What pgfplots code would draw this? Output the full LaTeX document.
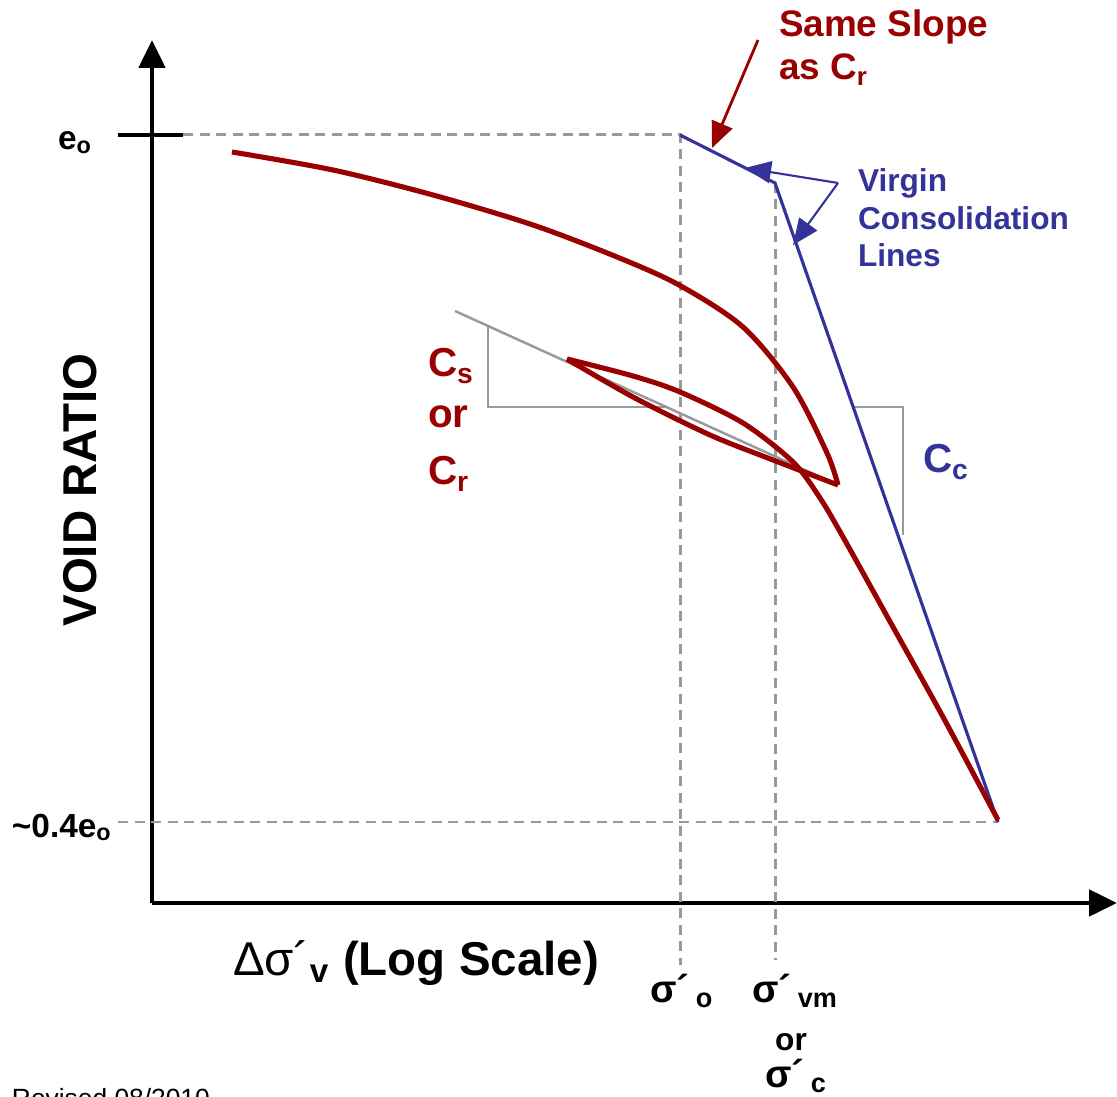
\documentclass[border=0pt]{standalone}
\usepackage{pgfplots}
\pgfplotsset{compat=1.18}
\usetikzlibrary{arrows.meta}
\usepackage{fontspec}
\setmainfont{Liberation Sans}
\definecolor{dred}{HTML}{990000}
\definecolor{dblue}{HTML}{333399}
\definecolor{dgray}{HTML}{999999}
\newcommand{\fs}[1]{\fontsize{#1}{#1}\selectfont}

\begin{document}
\begin{tikzpicture}[lb/.style={inner sep=0pt, outer sep=0pt, anchor=base west}]
\begin{axis}[
  x=0.1mm, y=0.1mm,
  xmin=152, xmax=1117, ymin=193, ymax=1056,
  axis lines=left,
  axis line style={line width=1.4pt, -{Triangle[length=2.8mm,width=2.6mm]}},
  xtick=\empty, ytick=\empty,
  clip=false,
]
% guide lines
\addplot[dgray, line width=0.85pt, dash pattern=on 1mm off 0.65mm]
  coordinates {(183,961) (680,961) (680,131)};
\addplot[dgray, line width=0.85pt, dash pattern=on 1mm off 0.65mm]
  coordinates {(775,913) (775,136)};
\addplot[dgray, line width=0.85pt, dash pattern=on 1mm off 0.65mm]
  coordinates {(118,274) (998,274)};
% e_o tick
\addplot[black, line width=1.4pt] coordinates {(118,961) (183,961)};

% slope triangles
\addplot[dgray, line width=0.7pt] coordinates {(455,785) (838,611)};
\addplot[dgray, line width=0.7pt] coordinates {(488,770) (488,689) (665,689)};
\addplot[dgray, line width=0.7pt] coordinates {(855,689) (903,689) (903,561)};

% virgin consolidation lines
\addplot[dblue, line width=0.9pt] coordinates {(680,961) (775,913) (998,274)};

% loading curve
\addplot[dred, line width=1.45pt, smooth] coordinates {
  (232,944) (333,926) (433,901) (533,871) (617,839) (679,811)
  (743,769) (793,709) (827,643) (838,611)};
% unloading
\addplot[dred, line width=1.45pt, smooth] coordinates {
  (838,611) (773,636) (710,661) (633,699) (567,737)};
% reloading
\addplot[dred, line width=1.45pt, smooth] coordinates {
  (567,737) (633,720) (680,704) (743,673) (793,634) (820,598)
  (843,559) (893,469) (943,379) (998,276)};

% annotation arrows
\addplot[dred, line width=0.8pt, -{Triangle[length=2.6mm,width=2.2mm]}]
  coordinates {(758,1056) (712,948)};
\addplot[dblue, line width=0.6pt, -{Triangle[length=2.6mm,width=2.2mm]}]
  coordinates {(838,913) (745,928)};
\addplot[dblue, line width=0.6pt, -{Triangle[length=2.6mm,width=2.2mm]}]
  coordinates {(838,913) (793,851)};

% texts
\node[lb, text=dred, font=\bfseries\fs{10.5}] at (axis cs:779,1059) {Same Slope};
\node[lb, text=dred, font=\bfseries\fs{10.5}] at (axis cs:779,1016) {as C\textsubscript{r}};
\node[lb, text=dblue, font=\bfseries\fs{9}] at (axis cs:858,904) {Virgin};
\node[lb, text=dblue, font=\bfseries\fs{9}] at (axis cs:858,866) {Consolidation};
\node[lb, text=dblue, font=\bfseries\fs{9}] at (axis cs:858,829) {Lines};
\node[lb, text=dred, font=\bfseries\fs{11.5}] at (axis cs:428,719) {C\textsubscript{s}};
\node[lb, text=dred, font=\bfseries\fs{11.5}] at (axis cs:428,668) {or};
\node[lb, text=dred, font=\bfseries\fs{11.5}] at (axis cs:428,611) {C\textsubscript{r}};
\node[lb, text=dblue, font=\bfseries\fs{11.5}] at (axis cs:923,623) {C\textsubscript{c}};
\node[inner sep=0pt, rotate=90, font=\bfseries\fs{13.5}] at (axis cs:80,606) {VOID RATIO};
\node[lb, font=\bfseries\fs{9.5}] at (axis cs:58,946) {e\textsubscript{o}};
\node[lb, font=\bfseries\fs{9.5}] at (axis cs:12,259) {\textasciitilde 0.4e\textsubscript{o}};
\node[lb, font=\bfseries\fs{13.5}] at (axis cs:233,121) {\textmd{Δσ´}\textsubscript{v} (Log Scale)};
\node[lb, font=\bfseries\fs{11}] at (axis cs:650,94) {σ´\,\textsubscript{o}};
\node[lb, font=\bfseries\fs{11}] at (axis cs:752,94) {σ´\,\textsubscript{vm}};
\node[inner sep=0pt, anchor=base, font=\bfseries\fs{9}] at (axis cs:791,46) {or};
\node[lb, font=\bfseries\fs{11}] at (axis cs:765,9) {σ´\,\textsubscript{c}};
\node[lb, font=\mdseries\fs{7.5}] at (axis cs:12,-11) {Revised 08/2010};

\coordinate (bl) at (axis cs:0,0);
\coordinate (tr) at (axis cs:1117,1096);
\end{axis}
\pgfresetboundingbox
\path[use as bounding box] (bl) rectangle (tr);
\end{tikzpicture}
\end{document}
